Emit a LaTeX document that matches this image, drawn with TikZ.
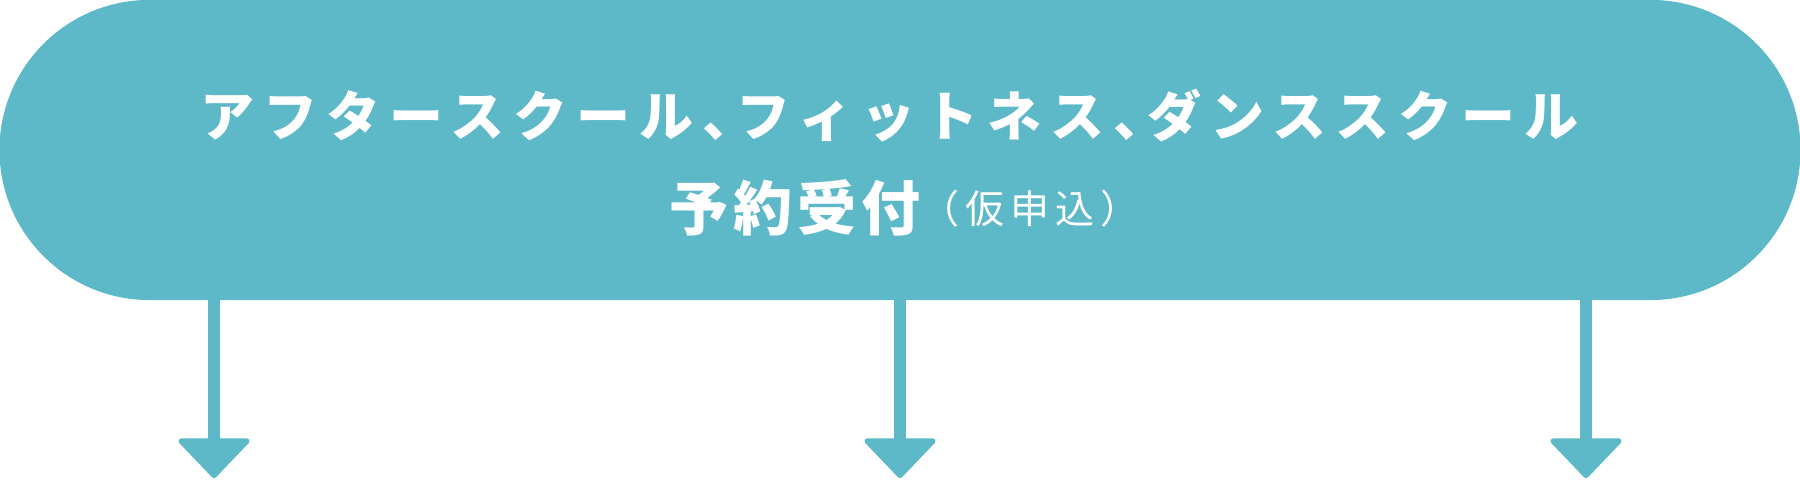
\documentclass[tikz,border=0pt]{standalone}
\usepackage{fontspec}
\newfontfamily\jpA[LetterSpace=16.7]{Noto Sans CJK JP}
\newfontfamily\jpB[LetterSpace=8.5]{Noto Sans CJK JP}
\newfontfamily\jpC[LetterSpace=15]{Noto Sans CJK JP}
\definecolor{teal}{HTML}{5DB8C8}
\newcommand{\tcomma}{、\kern-0.2cm}
\tikzset{
  banner/.style={fill=teal, rounded corners=1.5cm, minimum width=18cm, minimum height=3cm, inner sep=0pt},
  label/.style={text=white, inner sep=0pt},
  bar/.style={draw=teal, line width=0.12cm},
  head/.style={fill=teal, draw=teal, line width=1.5pt, line join=round}
}
\begin{document}
\begin{tikzpicture}[x=0.01cm, y=-0.01cm]
\useasboundingbox (0,0) rectangle (1800,480);
\node[banner] (pill) at (900,150) {};
\node[label, anchor=base west] (t1) at (200,137) {\jpA\bfseries\fontsize{15.36pt}{18pt}\selectfont アフタースクール\tcomma フィットネス\tcomma ダンススクール};
\node[label, anchor=base west] (t2) at (669,231) {\jpB\bfseries\fontsize{16.8pt}{19pt}\selectfont 予約受付};
\node[label, anchor=base west] (t3) at (920,224) {\jpC\fontsize{11.1pt}{13pt}\selectfont （仮申込）};
\foreach \i/\x in {1/214, 2/900, 3/1586} {
  \coordinate (h\i) at (\x,441);
  \draw[bar] ([yshift=0.04cm]pill.south -| h\i) -- (h\i);
  \filldraw[head] ([xshift=-0.33cm]h\i) -- ([xshift=0.33cm]h\i) -- ([yshift=-0.345cm]h\i) -- cycle;
}
\end{tikzpicture}
\end{document}
